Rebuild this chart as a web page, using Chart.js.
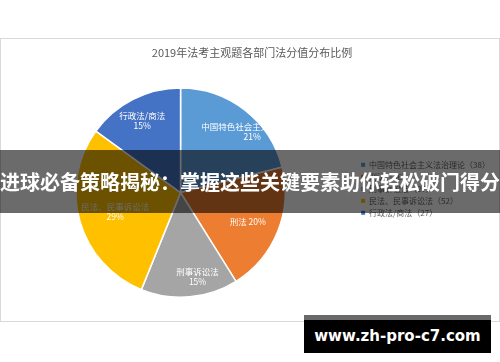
<!DOCTYPE html>
<html>
<head>
<meta charset="utf-8">
<script src="https://cdn.jsdelivr.net/npm/chart.js@4.4.1/dist/chart.umd.min.js"></script>
<style>
  html, body { margin: 0; padding: 0; background: #fff; }
  #wrap { position: relative; width: 500px; height: 362px; overflow: hidden; }
  #card { position: absolute; left: 0; top: 38px; width: 498px; height: 282px; border: 1px solid #d9d9d9; }
  #pie { position: absolute; left: 0; top: 0; }
  #banner {
    position: absolute; left: 0; top: 150px; width: 500px; height: 63px;
    background: rgba(0, 0, 0, 0.58); color: #fff;
    font: bold 20px "Noto Sans CJK SC", sans-serif; white-space: nowrap;
    box-sizing: border-box; padding-top: 19px; line-height: 26px;
  }
  #mark {
    position: absolute; left: 304px; top: 315px; width: 187px; height: 33px;
    border-top: 5px solid #6a6a6a; background: #000; color: #fff;
    font: bold 15px "DejaVu Sans", sans-serif; text-align: center; line-height: 33px;
  }
</style>
</head>
<body>
<div id="wrap">
  <div id="card"></div>
  <canvas id="pie" width="500" height="362"></canvas>
  <div id="banner">进球必备策略揭秘：掌握这些关键要素助你轻松破门得分</div>
  <div id="mark">www.zh-pro-c7.com</div>
</div>
<script>
// data
const categories = ['中国特色社会主义法治理论', '刑法', '刑事诉讼法', '民法、民事诉讼法', '行政法/商法'];
const scores = [38, 36, 27, 52, 27];
const colors = ['#5B9BD5', '#ED7D31', '#A5A5A5', '#FFC000', '#4472C4'];
const chartTitle = '2019年法考主观题各部门法分值分布比例';

const total = scores.reduce((a, b) => a + b, 0);

// labels inside the slices, clipped by the pie edge like the original
const sliceLabels = {
    id: 'sliceLabels',
    afterDatasetsDraw(chart, args, opts) {
        const ctx = chart.ctx;
        const arcs = chart.getDatasetMeta(0).data;
        ctx.save();
        ctx.font = '8.5px "Noto Sans CJK SC", sans-serif';
        ctx.fillStyle = '#fff';
        ctx.textAlign = 'center';
        ctx.textBaseline = 'middle';
        arcs.forEach((arc, i) => {
            const p = arc.getProps(['x', 'y', 'startAngle', 'endAngle', 'outerRadius'], true);
            const mid = (p.startAngle + p.endAngle) / 2 + opts.turn[i] * Math.PI / 180;
            const r = p.outerRadius * opts.dist[i];
            const cx = p.x + Math.cos(mid) * r;
            const cy = p.y + Math.sin(mid) * r;
            const pct = Math.round(scores[i] / total * 100) + '%';
            ctx.save();
            ctx.beginPath();
            ctx.arc(p.x, p.y, p.outerRadius, 0, Math.PI * 2);
            ctx.clip();
            if (opts.oneLine[i]) {
                ctx.fillText(categories[i] + ' ' + pct, cx, cy);
            } else {
                ctx.fillText(categories[i], cx, cy - 5);
                ctx.fillText(pct, cx, cy + 5);
            }
            ctx.restore();
        });
        ctx.restore();
    }
};

new Chart(document.getElementById('pie'), {
    type: 'pie',
    data: {
        labels: categories,
        datasets: [{
            data: scores,
            backgroundColor: colors,
            borderColor: '#fff',
            borderWidth: 1.5
        }]
    },
    options: {
        responsive: false,
        animation: false,
        layout: { padding: { top: 38, bottom: 64, left: 4, right: 0 } },
        plugins: {
            title: {
                display: true,
                text: chartTitle,
                color: '#595959',
                font: { family: '"Noto Sans CJK SC", sans-serif', size: 11, weight: 'normal' },
                padding: { top: 8, bottom: 28 }
            },
            legend: {
                position: 'right',
                // empty title only pushes the items down
                title: {
                    display: true,
                    text: ' ',
                    font: { size: 8 },
                    padding: { top: 16, bottom: 16 }
                },
                labels: {
                    boxWidth: 4,
                    boxHeight: 4,
                    padding: 4,
                    color: '#595959',
                    font: { family: '"Noto Sans CJK SC", sans-serif', size: 8 },
                    generateLabels: (chart) => categories.map((c, i) => ({
                        text: c + '（' + scores[i] + '）',
                        fillStyle: colors[i],
                        strokeStyle: colors[i],
                        lineWidth: 0,
                        index: i
                    }))
                }
            },
            tooltip: { enabled: false },
            sliceLabels: {
                dist: [0.9, 0.7, 0.82, 0.65, 0.78],
                turn: [11.5, 1.5, -6.4, 0, -1],
                oneLine: [false, true, false, false, false]
            }
        }
    },
    plugins: [sliceLabels]
});
</script>
</body>
</html>
